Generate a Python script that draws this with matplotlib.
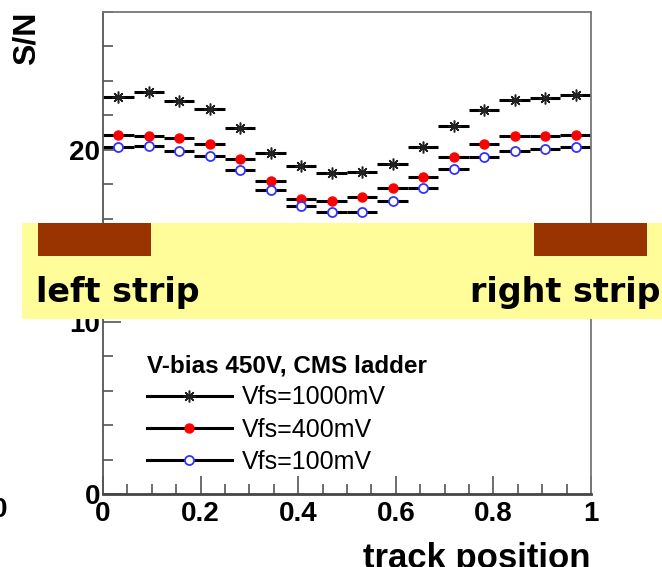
import numpy as np
import matplotlib
matplotlib.use("Agg")
import matplotlib.pyplot as plt
from matplotlib.lines import Line2D
from matplotlib.patches import Rectangle
from matplotlib.ticker import MultipleLocator

# bin centres (16 bins over the strip pitch)
track_pos = np.arange(16) / 16 + 1 / 32
bin_half = 1 / 32

sn_1000 = [23.06, 23.33, 22.81, 22.36, 21.28, 19.79, 19.03, 18.64,
           18.72, 19.17, 20.15, 21.40, 22.33, 22.90, 22.98, 23.17]
sn_400 = [20.83, 20.78, 20.66, 20.35, 19.48, 18.16, 17.13, 17.00,
          17.23, 17.75, 18.43, 19.55, 20.35, 20.78, 20.81, 20.85]
sn_100 = [20.15, 20.19, 19.92, 19.61, 18.84, 17.69, 16.76, 16.36,
          16.36, 17.00, 17.75, 18.91, 19.55, 19.94, 20.06, 20.17]

labels = ["Vfs=1000mV", "Vfs=400mV", "Vfs=100mV"]
legend_title = "V-bias 450V, CMS ladder"

plt.rcParams["font.family"] = ["Liberation Sans", "DejaVu Sans"]

fig = plt.figure(figsize=(6.62, 5.67), dpi=100)
ax = fig.add_axes([0.1556, 0.1287, 0.8927 - 0.1556, 0.9788 - 0.1287])

star = (8, 2, 0)
styles = [
    (sn_1000, dict(marker=star, ms=8.5, mfc="black", mec="#222222", mew=1.1)),
    (sn_400, dict(marker="o", ms=6.5, mfc="red", mec="red", mew=1)),
    (sn_100, dict(marker="o", ms=6.5, mfc="white", mec="#3333ff", mew=1.3)),
]
for vals, st in styles:
    ax.errorbar(track_pos, vals, xerr=bin_half, fmt="none", ecolor="black",
                elinewidth=2.2, capsize=0, zorder=2)
    ax.plot(track_pos, vals, linestyle="none", zorder=3, **st)

ax.set_xlim(0, 1)
ax.set_ylim(0, 28)
ax.xaxis.set_major_locator(MultipleLocator(0.2))
ax.xaxis.set_minor_locator(MultipleLocator(0.05))
ax.yaxis.set_major_locator(MultipleLocator(10))
ax.yaxis.set_minor_locator(MultipleLocator(2))
ax.set_xticks([0, 0.2, 0.4, 0.6, 0.8, 1.0])
ax.set_xticklabels(["0", "0.2", "0.4", "0.6", "0.8", "1"])
ax.tick_params(which="both", direction="in", top=False, right=False,
               color="#555555", width=1.2)
ax.tick_params(which="major", length=13)
ax.tick_params(which="minor", length=7)
ax.tick_params(axis="x", which="major", pad=5, labelsize=20)
ax.tick_params(axis="y", which="major", pad=2, labelsize=20)
for lab in ax.get_xticklabels() + ax.get_yticklabels():
    lab.set_fontweight("bold")
for sp in ax.spines.values():
    sp.set_color("#777777")
    sp.set_linewidth(1.3)
ax.spines["left"].set_color("#555555")
ax.spines["bottom"].set_color("#444444")
ax.spines["bottom"].set_linewidth(2)

ax.set_xlabel("track position", loc="right", fontsize=25, fontweight="bold")
ax.xaxis.set_label_coords(1.0, -0.10)
ax.set_ylabel("S/N", loc="top", fontsize=23, fontweight="bold")
ax.yaxis.set_label_coords(-0.127, 1.0)

handles = [
    Line2D([], [], color="black", lw=2.2, marker=star, ms=8.5, mfc="black",
           mec="#222222", mew=1.1),
    Line2D([], [], color="black", lw=2.2, marker="o", ms=6.5, mfc="red",
           mec="red"),
    Line2D([], [], color="black", lw=2.2, marker="o", ms=6.5, mfc="white",
           mec="#3333ff", mew=1.3),
]
leg = ax.legend(handles, labels, title=legend_title, loc="upper left",
                bbox_to_anchor=(0.09, 0.29), frameon=False, fontsize=18,
                title_fontproperties={"weight": "bold", "size": 17.5},
                alignment="left", handlelength=3.4, handletextpad=0.4,
                labelspacing=0.33, borderpad=0, borderaxespad=0)

# slide overlay: yellow band with strip markers
fig.add_artist(Rectangle((0.0332, 0.4374), 1 - 0.0332, 0.6067 - 0.4374,
                         transform=fig.transFigure, facecolor="#fffd99",
                         edgecolor="none", zorder=5))
for x0 in (0.0574, 0.8066):
    fig.add_artist(Rectangle((x0, 0.5485), 0.1707, 0.6067 - 0.5485,
                             transform=fig.transFigure, facecolor="#993300",
                             edgecolor="none", zorder=6))
fig.text(0.054, 0.467, "left strip", family="DejaVu Sans", fontsize=24,
         fontweight="bold", ha="left", va="baseline", zorder=7)
fig.text(0.997, 0.467, "right strip", family="DejaVu Sans", fontsize=24,
         fontweight="bold", ha="right", va="baseline", zorder=7)

# clipped tick label at the left edge of the slide
fig.text(-0.012, 0.10, "0", fontsize=20, fontweight="bold", ha="left",
         va="center")

fig.savefig("out.png", dpi=100)
